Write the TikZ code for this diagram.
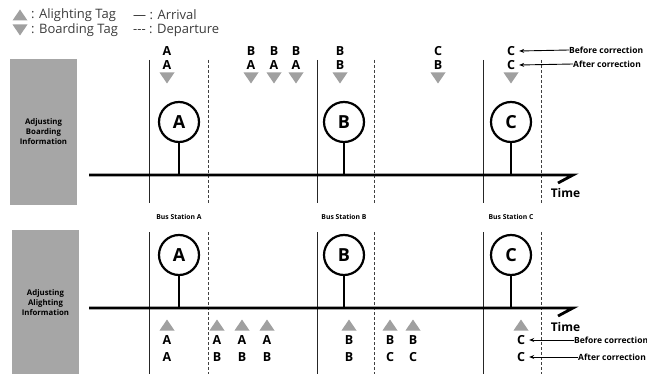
\documentclass[tikz,border=0pt]{standalone}
\usepackage{fontspec}
\setmainfont{Open Sans}
\usepackage{xcolor}
\usetikzlibrary{arrows.meta, positioning}
\definecolor{tagGray}{RGB}{160,160,160}
\definecolor{panelGray}{RGB}{166,166,166}
\definecolor{legendInk}{RGB}{60,60,60}

% tag triangles (centre given as a named coordinate)
\newcommand{\tagdown}[1]{\fill[tagGray] ([shift={(-7.5,-5.5)}]#1) -- ++(15,0) -- ++(-7.5,11) -- cycle;}
\newcommand{\tagup}[1]{\fill[tagGray] ([shift={(-7.5,5.5)}]#1) -- ++(15,0) -- ++(-7.5,-11) -- cycle;}

\begin{document}
\begin{tikzpicture}[
    x=1pt, y=-1pt,
    panel/.style={rectangle, fill=panelGray, minimum width=67pt, minimum height=145pt, inner sep=0pt, align=center, font=\fontsize{7.8}{10}\selectfont\bfseries},
    station/.style={circle, draw, line width=2.2pt, minimum size=40pt, inner sep=0pt, font=\fontsize{18}{18}\selectfont\bfseries},
    taglabel/.style={inner sep=0pt, font=\fontsize{12.5}{12.5}\selectfont\bfseries},
    legend/.style={anchor=west, inner sep=0pt, text=legendInk, font=\fontsize{13}{13}\selectfont},
    note/.style={anchor=west, inner sep=0pt, font=\fontsize{8.5}{9}\selectfont\bfseries},
    stopname/.style={inner sep=0pt, font=\fontsize{6.8}{7}\selectfont\bfseries},
    timeaxis/.style={line width=2.8pt},
    stem/.style={line width=2.8pt},
    arrive/.style={line width=0.8pt, black!85},
    depart/.style={line width=0.8pt, black!75, dash pattern=on 3pt off 2pt},
    corrarrow/.style={-{Stealth[length=5pt, width=4pt]}, line width=0.9pt}
]
\useasboundingbox (0,0) rectangle (647,374);

% legend
\coordinate (lgUp) at (20,15);
\coordinate (lgDown) at (20,30);
\tagup{lgUp}
\tagdown{lgDown}
\node[legend] (lgAlight) at (31,15) {: Alighting Tag};
\node[legend] (lgBoard) at (31,30) {: Boarding Tag};
\node[legend] (lgArrive) at (133,15) {— : Arrival};
\node[legend] (lgDepart) at (133,30) {-{}-{}- : Departure};

% panels
\node[panel] (boardPanel) at (43.5,132) {Adjusting\\Boarding\\Information};
\node[panel] (alightPanel) at (45.5,302.5) {Adjusting\\Alighting\\Information};

% arrival / departure lines
\foreach \xa/\xd in {149/208, 317/374, 483/541} {
  \draw[arrive] (\xa,60) -- (\xa,203);
  \draw[depart] (\xd,60) -- (\xd,203);
  \draw[arrive] (\xa,232) -- (\xa,374);
  \draw[depart] (\xd,232) -- (\xd,374);
}

% time axes
\coordinate (tAxisL) at (89,175);
\coordinate (tAxisR) at (573,175);
\coordinate (bAxisL) at (89,308);
\coordinate (bAxisR) at (573,308);
\draw[timeaxis] (tAxisL) -- (tAxisR) -- ++(-15,8);
\draw[timeaxis] (bAxisL) -- (bAxisR) -- ++(-15,8);
\node[inner sep=0pt, font=\fontsize{12}{12}\selectfont\bfseries] (tTime) at (565.5,193) {Time};
\node[inner sep=0pt, font=\fontsize{12}{12}\selectfont\bfseries] (bTime) at (565.5,327) {Time};

% stations
\foreach \n/\x in {A/179, B/344, C/511} {
  \node[station] (top\n) at (\x,122) {\n};
  \draw[stem] (top\n.south) -- (top\n.south |- tAxisL);
  \node[station] (bot\n) at (\x,255) {\n};
  \draw[stem] (bot\n.south) -- (bot\n.south |- bAxisL);
  \node[stopname] (stop\n) at (\x,217) {Bus Station \n};
}

% boarding tags (before / after correction)
\foreach \x/\p/\q [count=\i] in {167/A/A, 251/B/A, 274/B/A, 296/B/A, 340/B/B, 438/C/B, 511/C/C} {
  \node[taglabel] (bd\i p) at (\x,51) {\p};
  \node[taglabel] (bd\i q) at (\x,65) {\q};
  \coordinate (bd\i t) at (\x,78);
  \tagdown{bd\i t}
}

% alighting tags (before / after correction)
\foreach \x/\p/\q [count=\i] in {167/A/A, 217/A/B, 242/A/B, 267/A/B, 349/B/B, 390/B/C, 413/B/C, 521/C/C} {
  \coordinate (al\i t) at (\x,325);
  \tagup{al\i t}
  \node[taglabel] (al\i p) at (\x,340) {\p};
  \node[taglabel] (al\i q) at (\x,357) {\q};
}

% correction notes
\node[note] (tBefore) at (569,50) {Before correction};
\node[note] (tAfter) at (573,64) {After correction};
\draw[corrarrow] (tBefore.west) -- ([xshift=4pt]bd7p.east);
\draw[corrarrow] (tAfter.west) -- ([xshift=4pt]bd7q.east);
\node[note] (bBefore) at (574,340) {Before correction};
\node[note] (bAfter) at (578,357) {After correction};
\draw[corrarrow] (bBefore.west) -- ([xshift=4pt]al8p.east);
\draw[corrarrow] (bAfter.west) -- ([xshift=4pt]al8q.east);
\end{tikzpicture}
\end{document}
